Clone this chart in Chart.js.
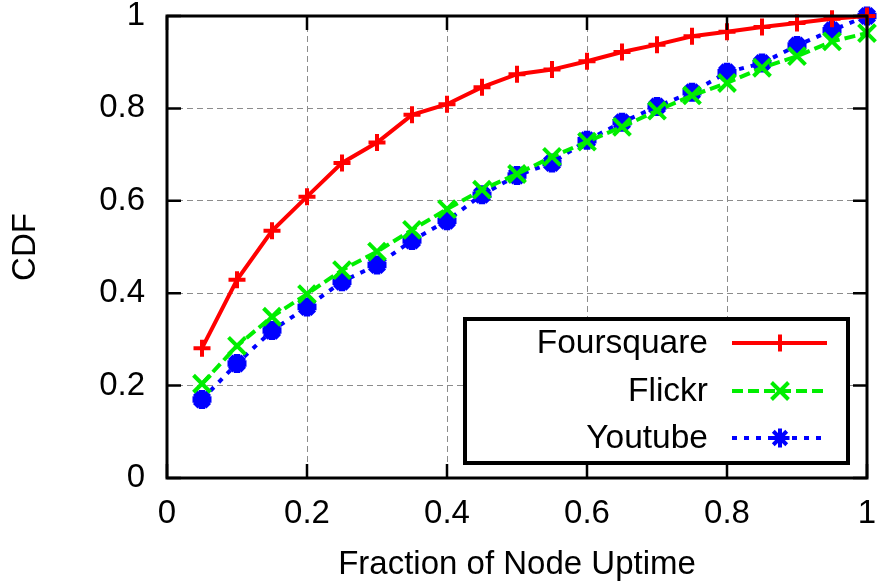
<!DOCTYPE html>
<html>
<head>
<meta charset="utf-8">
<script src="https://cdn.jsdelivr.net/npm/chart.js@4.4.0/dist/chart.umd.min.js"></script>
<style>
html, body { margin: 0; padding: 0; background: #fff; }
canvas { display: block; }
</style>
</head>
<body>
<canvas id="cdfChart" width="877" height="582"></canvas>
<script>
// node uptime fraction (x) and cumulative share of nodes (y)
const uptime = [0.05, 0.1, 0.15, 0.2, 0.25, 0.3, 0.35, 0.4, 0.45, 0.5,
                0.55, 0.6, 0.65, 0.7, 0.75, 0.8, 0.85, 0.9, 0.95, 1.0];
const foursquare = [0.281, 0.429, 0.535, 0.609, 0.682, 0.726, 0.786, 0.809, 0.846, 0.874,
                    0.884, 0.902, 0.922, 0.938, 0.956, 0.966, 0.976, 0.985, 0.994, 1.0];
const flickr = [0.204, 0.286, 0.349, 0.398, 0.450, 0.490, 0.537, 0.582, 0.624, 0.658,
                0.695, 0.728, 0.760, 0.795, 0.828, 0.855, 0.888, 0.913, 0.945, 0.963];
const youtube = [0.170, 0.248, 0.319, 0.370, 0.425, 0.461, 0.514, 0.557, 0.613, 0.655,
                 0.682, 0.731, 0.770, 0.804, 0.835, 0.878, 0.898, 0.936, 0.969, 1.0];
const tickValues = [0, 0.2, 0.4, 0.6, 0.8, 1];

const FONT = "'Liberation Sans', Arial, Helvetica, sans-serif";
const TICK = 14;

function series(label, values, color, dash, style, radius, pw) {
    return {
        label,
        data: uptime.map((u, i) => ({ x: u, y: values[i] })),
        borderColor: color,
        backgroundColor: color,
        borderWidth: 4,
        borderDash: dash,
        borderCapStyle: 'butt',
        pointStyle: style,
        pointRadius: radius,
        pointBorderWidth: pw,
        pointBorderColor: color,
        pointBackgroundColor: color,
        tension: 0,
        clip: false
    };
}

// border box, inward ticks on all four sides, and the legend box
const framePlugin = {
    id: 'frame',
    afterDatasetsDraw(chart) {
        const { ctx, chartArea: a, scales: { x, y } } = chart;
        ctx.save();
        ctx.strokeStyle = '#000';
        ctx.lineWidth = 2.5;
        ctx.beginPath();
        tickValues.forEach(v => {
            const px = x.getPixelForValue(v);
            const py = y.getPixelForValue(v);
            ctx.moveTo(px, a.bottom); ctx.lineTo(px, a.bottom - TICK);
            ctx.moveTo(px, a.top); ctx.lineTo(px, a.top + TICK);
            ctx.moveTo(a.left, py); ctx.lineTo(a.left + TICK, py);
            ctx.moveTo(a.right, py); ctx.lineTo(a.right - TICK, py);
        });
        ctx.stroke();
        ctx.lineWidth = 3;
        ctx.strokeRect(a.left, a.top, a.right - a.left, a.bottom - a.top);

        // legend
        const box = { left: 465, top: 319, right: 848, bottom: 463 };
        ctx.fillStyle = '#fff';
        ctx.fillRect(box.left, box.top, box.right - box.left, box.bottom - box.top);
        ctx.lineWidth = 4;
        ctx.strokeRect(box.left, box.top, box.right - box.left, box.bottom - box.top);

        const rows = [343, 391, 438];
        ctx.font = '33.5px ' + FONT;
        ctx.textAlign = 'right';
        ctx.textBaseline = 'middle';
        chart.data.datasets.forEach((ds, i) => {
            const ry = rows[i];
            ctx.fillStyle = '#000';
            ctx.fillText(ds.label, 708, ry + 1);
            ctx.strokeStyle = ds.borderColor;
            ctx.lineWidth = ds.borderWidth;
            ctx.lineCap = 'butt';
            ctx.setLineDash(ds.borderDash);
            ctx.beginPath();
            ctx.moveTo(732, ry);
            ctx.lineTo(827, ry);
            ctx.stroke();
            ctx.setLineDash([]);
            Chart.helpers.drawPoint(ctx, {
                pointStyle: ds.pointStyle,
                radius: ds.pointRadius,
                borderWidth: ds.pointBorderWidth,
                rotation: 0
            }, 780, ry);
        });
        ctx.restore();
    }
};

const ctx = document.getElementById('cdfChart');

new Chart(ctx, {
    type: 'line',
    data: {
        datasets: [
            series('Foursquare', foursquare, '#ff0000', [], 'cross', 8.5, 4),
            series('Flickr', flickr, '#00ee00', [11, 5], 'crossRot', 12, 4),
            series('Youtube', youtube, '#0000ff', [5, 7], 'star', 9.5, 6.5)
        ]
    },
    options: {
        responsive: false,
        animation: false,
        layout: { autoPadding: false, padding: { top: 16, right: 10, left: 0, bottom: 0 } },
        plugins: {
            legend: { display: false },
            tooltip: { enabled: false }
        },
        scales: {
            x: {
                type: 'linear',
                min: 0,
                max: 1,
                afterBuildTicks: s => { s.ticks = tickValues.map(v => ({ value: v })); },
                afterFit: s => {
                    s.height = 104;
                    s.paddingLeft = 0;
                    s.paddingRight = 0;
                },
                grid: { color: '#8c8c8c', lineWidth: 1, drawTicks: false },
                border: { display: false, dash: [6, 4] },
                ticks: {
                    color: '#000',
                    padding: 16,
                    maxRotation: 0,
                    font: { family: FONT, size: 33 },
                    callback: v => String(v)
                },
                title: {
                    display: true,
                    text: 'Fraction of Node Uptime',
                    color: '#000',
                    font: { family: FONT, size: 33 },
                    padding: { top: 0, bottom: -3 }
                }
            },
            y: {
                type: 'linear',
                min: 0,
                max: 1,
                afterBuildTicks: s => { s.ticks = tickValues.map(v => ({ value: v })); },
                afterFit: s => {
                    s.width = 167;
                    s.paddingTop = 0;
                    s.paddingBottom = 0;
                },
                grid: { color: '#8c8c8c', lineWidth: 1, drawTicks: false },
                border: { display: false, dash: [6, 4] },
                ticks: {
                    color: '#000',
                    padding: 22,
                    font: { family: FONT, size: 33 },
                    callback: v => String(v)
                },
                title: {
                    display: true,
                    text: 'CDF',
                    color: '#000',
                    font: { family: FONT, size: 33 },
                    padding: { top: 6, bottom: 0 }
                }
            }
        }
    },
    plugins: [framePlugin]
});
</script>
</body>
</html>
